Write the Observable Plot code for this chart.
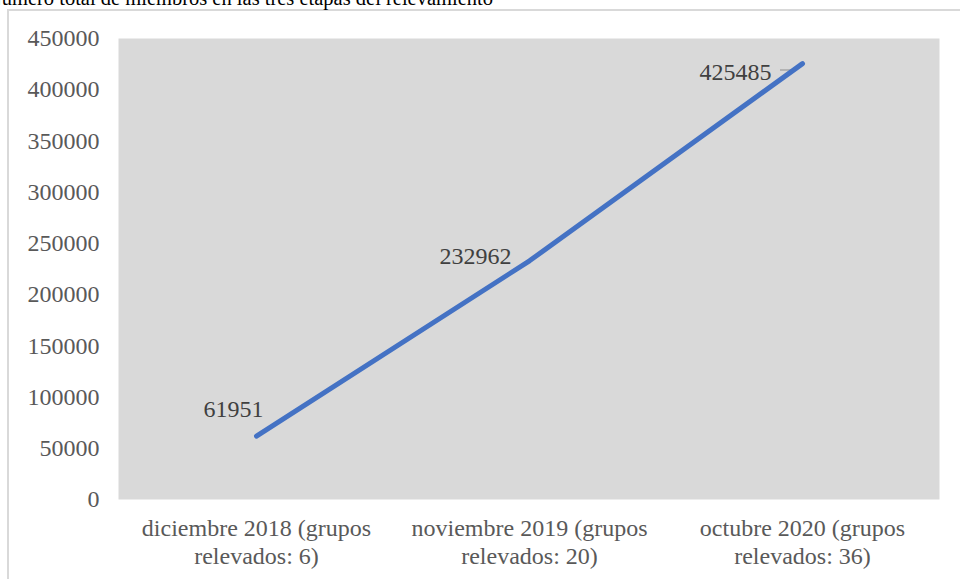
<!DOCTYPE html>
<html>
<head>
<meta charset="utf-8">
<script src="https://cdn.jsdelivr.net/npm/d3@7"></script>
<script src="https://cdn.jsdelivr.net/npm/@observablehq/plot@0.6"></script>
<style>
  html, body { margin: 0; padding: 0; background: #fff; }
  #wrap { position: relative; width: 960px; height: 579px; overflow: hidden; }
  #frame { position: absolute; left: 7px; top: 9px; width: 1000px; height: 700px; border: 2px solid #d9d9d9; box-sizing: border-box; }
  #title { position: absolute; top: -12px; right: 467px; white-space: nowrap; font-family: "Liberation Serif", serif; font-size: 20.5px; line-height: 20px; color: #000; }
  #chart { position: absolute; left: 0; top: 0; }
  #chart svg, #chart svg text { font-family: "Liberation Serif", serif !important; }
</style>
</head>
<body>
<div id="wrap">
  <div id="frame"></div>
  <div id="chart"></div>
  <div id="title">Número total de miembros en las tres etapas del relevamiento</div>
</div>
<script>
const categories = [
  "diciembre 2018 (grupos\nrelevados: 6)",
  "noviembre 2019 (grupos\nrelevados: 20)",
  "octubre 2020 (grupos\nrelevados: 36)"
];
const members = [61951, 232962, 425485];
const yTicks = [0, 50000, 100000, 150000, 200000, 250000, 300000, 350000, 400000, 450000];

const data = categories.map((c, i) => ({cat: c, value: members[i]}));

const fmt = d3.format("d");

const leader = (index, scales, values, dimensions, context) => {
  const d = data[2];
  const px = scales.x(d.cat), py = scales.y(d.value);
  const g = d3.create("svg:g");
  g.append("path")
    .attr("d", `M${px - 22},${py + 7}H${px - 10}L${px - 2},${py + 2}`)
    .attr("fill", "none")
    .attr("stroke", "#a6a6a6")
    .attr("stroke-width", 1.5);
  return g.node();
};

const serif = "Liberation Serif";
const fs = 24;

const chart = Plot.plot({
  width: 960,
  height: 579,
  marginTop: 38,
  marginBottom: 80,
  marginLeft: 118,
  marginRight: 21,
  style: {fontFamily: serif, fontSize: "24px", color: "#595959", background: "transparent"},
  x: {type: "point", domain: categories, padding: 0.5},
  y: {domain: [0, 450000]},
  marks: [
    Plot.frame({fill: "#d9d9d9", stroke: null}),
    Plot.axisY({ticks: yTicks, tickSize: 0, tickPadding: 19, tickFormat: fmt, label: null, fontSize: fs, fontFamily: serif}),
    Plot.axisX({tickSize: 0, tickPadding: 16, label: null, lineHeight: 1.19, fontSize: fs, fontFamily: serif}),
    leader,
    Plot.line(data, {x: "cat", y: "value", stroke: "#4472C4", strokeWidth: 5, strokeLinecap: "round", strokeLinejoin: "round"}),
    Plot.text([data[0]], {x: "cat", y: "value", text: d => fmt(d.value), dx: -23, dy: -27, fill: "#404040", fontSize: fs, fontFamily: serif}),
    Plot.text([data[1]], {x: "cat", y: "value", text: d => fmt(d.value), textAnchor: "end", dx: -18, dy: -5, fill: "#404040", fontSize: fs, fontFamily: serif}),
    Plot.text([data[2]], {x: "cat", y: "value", text: d => fmt(d.value), textAnchor: "end", dx: -31, dy: 9, fill: "#404040", fontSize: fs, fontFamily: serif})
  ]
});
document.getElementById("chart").appendChild(chart);
</script>
</body>
</html>
